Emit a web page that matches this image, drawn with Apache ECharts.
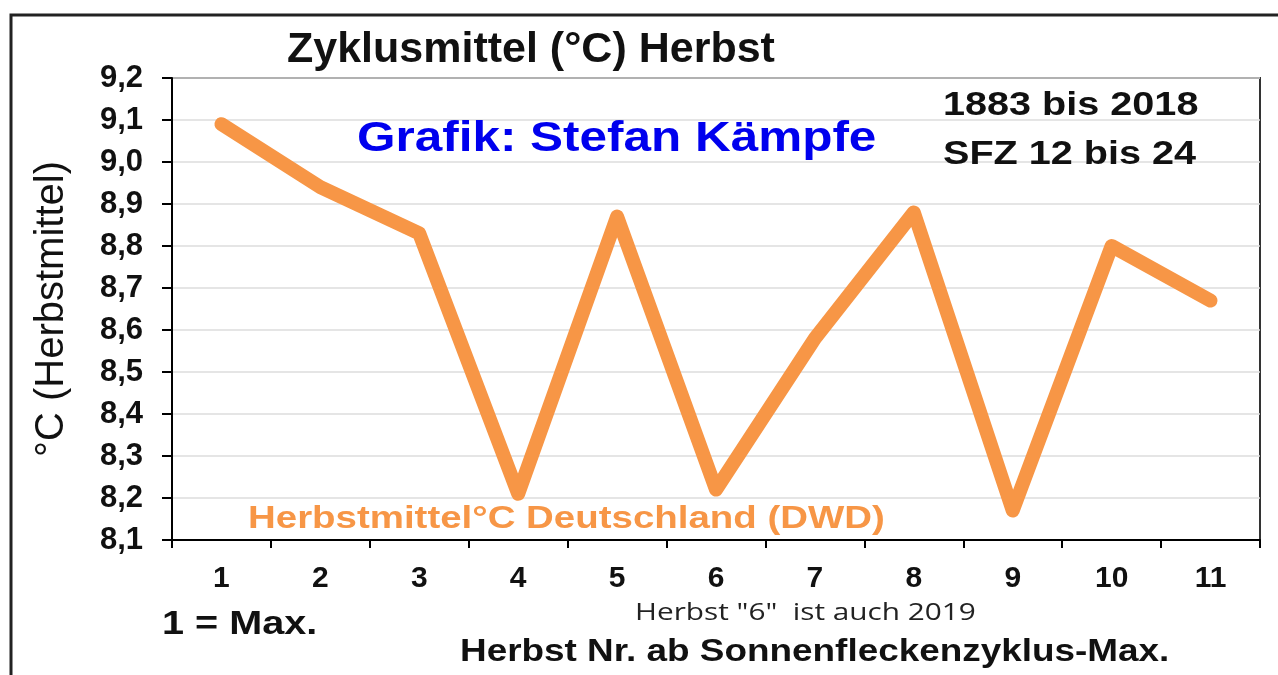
<!DOCTYPE html>
<html>
<head>
<meta charset="utf-8">
<script src="https://cdn.jsdelivr.net/npm/echarts@6/dist/echarts.min.js"></script>
<style>
  html, body { margin: 0; padding: 0; background: #fff; }
  #chart { width: 1278px; height: 675px; }
</style>
</head>
<body>
<div id="chart"></div>
<script>
// Herbst Nr. ab Sonnenfleckenzyklus-Max.
const categories = ['1', '2', '3', '4', '5', '6', '7', '8', '9', '10', '11']
// Herbstmittel °C Deutschland (DWD)
const herbstMittel = [9.09, 8.94, 8.83, 8.21, 8.87, 8.22, 8.58, 8.88, 8.17, 8.80, 8.67]
const yMin = 8.1
const yMax = 9.2
const yStep = 0.1

const font = '"Liberation Sans", Arial, sans-serif'
const orange = '#f79646'
const chart = echarts.init(document.getElementById('chart'))

// text block, stretched a bit wider like in the original picture
function label(text, x, y, size, color, sx, family, weight) {
  return {
    type: 'text', x: x, y: y, scaleX: sx || 1, z: 10,
    style: {
      text: text,
      font: (weight || 'bold') + ' ' + size + 'px ' + (family || font),
      fill: color || '#111',
      verticalAlign: 'middle'
    }
  }
}

chart.setOption({
  animation: false,
  backgroundColor: '#fff',
  grid: {
    left: 172,
    right: 18,
    top: 78,
    bottom: 135,
    show: true,
    borderColor: '#333',
    borderWidth: 2
  },
  xAxis: {
    type: 'category',
    data: categories,
    boundaryGap: true,
    axisLine: { lineStyle: { color: '#000', width: 2 } },
    axisTick: { show: true, length: 8, lineStyle: { color: '#000', width: 2 } },
    axisLabel: {
      margin: 24,
      fontFamily: font, fontSize: 30, fontWeight: 'bold', color: '#111'
    },
    splitLine: { show: false }
  },
  yAxis: {
    type: 'value',
    min: yMin,
    max: yMax,
    interval: yStep,
    name: '°C (Herbstmittel)',
    nameLocation: 'middle',
    nameGap: 100,
    nameTextStyle: { fontFamily: font, fontSize: 40, color: '#111' },
    axisLine: { show: true, lineStyle: { color: '#000', width: 2 } },
    axisTick: { show: true, length: 10, lineStyle: { color: '#000', width: 2 } },
    axisLabel: {
      margin: 29,
      fontFamily: font, fontSize: 31, fontWeight: 'bold', color: '#111',
      formatter: v => v.toFixed(1).replace('.', ',')
    },
    splitLine: { lineStyle: { color: '#ddd', width: 1.5 } }
  },
  series: [{
    name: 'Herbstmittel°C Deutschland (DWD)',
    type: 'line',
    data: herbstMittel,
    symbol: 'none',
    z: 3,
    lineStyle: { color: orange, width: 14, cap: 'round', join: 'round' }
  }],
  graphic: [
    // outer frame
    { type: 'polyline', shape: { points: [[11, 700], [11, 15], [1290, 15]] },
      style: { stroke: '#222', lineWidth: 3, fill: null } },
    label('Zyklusmittel (°C) Herbst', 287, 50, 43, '#111', 1),
    label('Grafik: Stefan Kämpfe', 357, 139, 43, '#0000ee', 1.15),
    label('1883 bis 2018', 943, 106, 33, '#111', 1.2),
    label('SFZ 12 bis 24', 943, 155, 33, '#111', 1.2),
    label('Herbstmittel°C Deutschland (DWD)', 248, 519, 31, orange, 1.24),
    label('1 = Max.', 162, 625, 33, '#111', 1.2),
    label('Herbst "6"  ist auch 2019', 635, 613, 24, '#222', 1.24, '"Open Sans", sans-serif', 'normal'),
    label('Herbst Nr. ab Sonnenfleckenzyklus-Max.', 460, 652, 31, '#111', 1.19)
  ]
})
</script>
</body>
</html>
